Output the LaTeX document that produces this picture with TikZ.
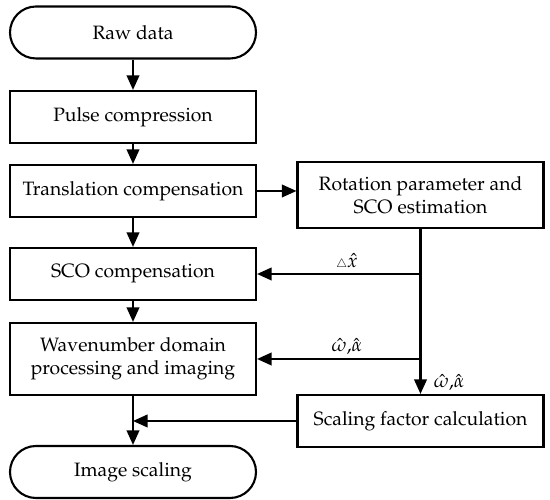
\documentclass[tikz,border=0pt]{standalone}
\usepackage[T1]{fontenc}
\usepackage{mathpazo}
\usepackage{amsmath}
\usetikzlibrary{arrows.meta}

\begin{document}
\begin{tikzpicture}[
  box/.style={draw, line width=1.2pt, minimum width=4.92cm, minimum height=1.04cm,
    align=center, inner sep=0pt, font=\fontsize{11}{13}\selectfont},
  term/.style={box, rounded corners=0.52cm},
  flow/.style={line width=1.2pt, -{Triangle[length=2.9mm,width=2.5mm]}},
  lbl/.style={font=\fontsize{11}{13}\selectfont, inner sep=2pt}
]
  \useasboundingbox (0,0) rectangle (11,10);

  \node[term] (raw) at (2.66,9.35) {Raw data};
  \node[box] (pulse) at (2.66,7.66) {Pulse compression};
  \node[box] (trans) at (2.66,6.18) {Translation compensation};
  \node[box] (sco) at (2.66,4.52) {SCO compensation};
  \node[box, minimum height=1.44cm] (wave) at (2.66,2.82) {Wavenumber domain\\processing and imaging};
  \node[term] (img) at (2.66,0.56) {Image scaling};

  \node[box, minimum height=1.32cm] (rot) at (8.41,6.1) {Rotation parameter and\\SCO estimation};
  \node[box] (scal) at (8.41,1.58) {Scaling factor calculation};

  \draw[flow] (raw) -- (pulse);
  \draw[flow] (pulse) -- (trans);
  \draw[flow] (trans) -- (sco);
  \draw[flow] (sco) -- (wave);
  \draw[flow] (wave) -- (img);
  \draw[flow] (trans.east) -- (trans.east -| rot.west);

  \draw[flow] (rot.south) -- (scal.north)
    node[lbl, pos=0.93, right, xshift=5pt] {$\hat{\omega}{,}\hat{\alpha}$};
  \coordinate (tapx) at (rot.south |- sco);
  \coordinate (tapw) at (rot.south |- wave);
  \draw[flow] (tapx) -- (sco.east) node[lbl, pos=0.45, above] {${\scriptscriptstyle\triangle}\hat{x}$};
  \draw[flow] (tapw) -- (wave.east) node[lbl, pos=0.45, above] {$\hat{\omega}{,}\hat{\alpha}$};

  \draw[flow] (scal.west) -- (scal.west -| wave.south);
\end{tikzpicture}
\end{document}
